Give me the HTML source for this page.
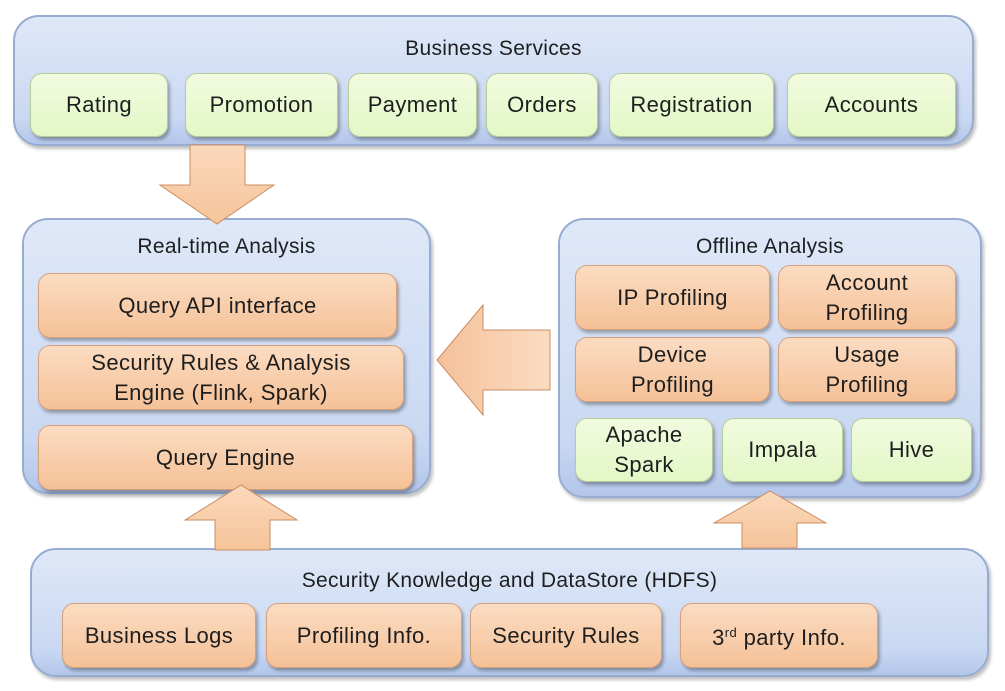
<!DOCTYPE html>
<html><head><style>
body{margin:0;width:1005px;height:691px;background:#fff;position:relative;overflow:hidden;font-family:"Liberation Sans",sans-serif;color:#1e1e1e}
.c{position:absolute;border:2px solid #97acd0;border-radius:26px;background:linear-gradient(#dfe8f8,#c9d8f2 80%,#b3c6ea);box-shadow:2px 3px 3px rgba(0,0,0,.25)}
.t{position:absolute;left:0;right:0;text-align:center;font-size:21px;letter-spacing:0.3px}
.b{position:absolute;display:flex;align-items:center;justify-content:center;text-align:center;font-size:22px;letter-spacing:0.4px;line-height:30px;border-radius:12px;box-shadow:2px 3px 3px rgba(0,0,0,.3);box-sizing:border-box}
.g{background:linear-gradient(#f1fbe0,#e3f7c6);border:1px solid #b8cc98}
.o{background:linear-gradient(#fbdcc2,#f5c197);border:1px solid #d8a07a}
svg{position:absolute;left:0;top:0}
</style></head><body>
<div class="c" style="left:13px;top:15px;width:957px;height:127px"><div class="t" style="top:20px">Business Services</div></div>
<div class="b g" style="left:30px;top:73px;width:138px;height:64px">Rating</div>
<div class="b g" style="left:185px;top:73px;width:153px;height:64px">Promotion</div>
<div class="b g" style="left:348px;top:73px;width:129px;height:64px">Payment</div>
<div class="b g" style="left:486px;top:73px;width:112px;height:64px">Orders</div>
<div class="b g" style="left:609px;top:73px;width:165px;height:64px">Registration</div>
<div class="b g" style="left:787px;top:73px;width:169px;height:64px">Accounts</div>

<div class="c" style="left:22px;top:218px;width:405px;height:272px"><div class="t" style="top:15px">Real-time Analysis</div></div>
<div class="b o" style="left:38px;top:273px;width:359px;height:65px">Query API interface</div>
<div class="b o" style="left:38px;top:345px;width:366px;height:65px">Security Rules &amp; Analysis<br>Engine (Flink, Spark)</div>
<div class="b o" style="left:38px;top:425px;width:375px;height:65px">Query Engine</div>

<div class="c" style="left:558px;top:218px;width:420px;height:276px"><div class="t" style="top:15px">Offline Analysis</div></div>
<div class="b o" style="left:575px;top:265px;width:195px;height:65px">IP Profiling</div>
<div class="b o" style="left:778px;top:265px;width:178px;height:65px">Account<br>Profiling</div>
<div class="b o" style="left:575px;top:337px;width:195px;height:65px">Device<br>Profiling</div>
<div class="b o" style="left:778px;top:337px;width:178px;height:65px">Usage<br>Profiling</div>
<div class="b g" style="left:575px;top:418px;width:138px;height:64px">Apache<br>Spark</div>
<div class="b g" style="left:722px;top:418px;width:121px;height:64px">Impala</div>
<div class="b g" style="left:851px;top:418px;width:121px;height:64px">Hive</div>

<div class="c" style="left:30px;top:548px;width:955px;height:125px"><div class="t" style="top:19px">Security Knowledge and DataStore (HDFS)</div></div>
<div class="b o" style="left:62px;top:603px;width:194px;height:65px">Business Logs</div>
<div class="b o" style="left:266px;top:603px;width:196px;height:65px">Profiling Info.</div>
<div class="b o" style="left:470px;top:603px;width:192px;height:65px">Security Rules</div>
<div class="b o" style="left:680px;top:603px;width:198px;height:65px"><span>3<span style="font-size:13px;vertical-align:8px">rd</span> party Info.</span></div>

<svg width="1005" height="691">
<defs><linearGradient id="a" x1="0" x2="0" y1="0" y2="1"><stop offset="0" stop-color="#fbd9bc"/><stop offset="1" stop-color="#f6c49a"/></linearGradient>
<linearGradient id="h" x1="0" x2="1"><stop offset="0" stop-color="#f5c199"/><stop offset="1" stop-color="#fbdcc2"/></linearGradient></defs>
<g stroke="#c98d63" stroke-width="1">
<polygon fill="url(#a)" points="190,145 245,145 245,185 274,185 217,224 160,185 190,185"/>
<polygon fill="url(#h)" points="550,330 483,330 483,305 437,360 483,415 483,390 550,390"/>
<polygon fill="url(#a)" points="215,550 270,550 270,520 297,520 241,485 185,520 215,520"/>
<polygon fill="url(#a)" points="742,548 797,548 797,523 826,523 770,491 714,523 742,523"/>
</g></svg>
</body></html>
